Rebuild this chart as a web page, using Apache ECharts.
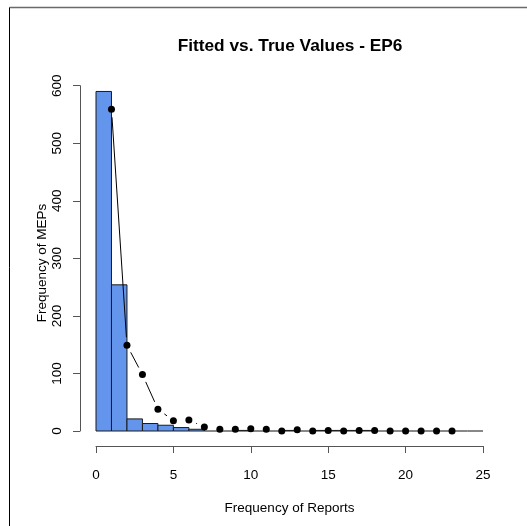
<!DOCTYPE html>
<html>
<head>
<meta charset="utf-8">
<script src="https://cdn.jsdelivr.net/npm/echarts@6/dist/echarts.min.js"></script>
<style>
  html, body { margin: 0; padding: 0; background: #fff; }
  #chart { width: 527px; height: 526px; }
</style>
</head>
<body>
<div id="chart"></div>
<script>
// Histogram of observed report counts (unit-width bins starting at 0)
var binStarts = [0, 1, 2, 3, 4, 5, 6, 7, 8, 9, 10, 11, 12, 13, 14, 15, 16, 17, 18, 19, 20, 21, 22, 23, 24];
var binCounts = [590, 254, 21, 13, 10, 6, 3, 0, 0, 1, 0, 0, 1, 0, 1, 1, 1, 1, 0, 0, 0, 0, 0, 0, 0];

// Fitted frequencies at each report count
var fitX = [1, 2, 3, 4, 5, 6, 7, 8, 9, 10, 11, 12, 13, 14, 15, 16, 17, 18, 19, 20, 21, 22, 23];
var fitY = [559, 149, 98, 38, 18, 19, 7, 3, 3, 4, 3, 0, 2, 0, 1, 0, 1, 1, 0, 0, 0, 0, 0];

var xTicks = [0, 5, 10, 15, 20, 25];
var yTicks = [0, 100, 200, 300, 400, 500, 600];

var FONT = '"Liberation Sans", Arial, sans-serif';

var histData = binStarts.map(function (s, i) { return [s, s + 1, binCounts[i]]; });
var pointData = fitX.map(function (x, i) { return [x, fitY[i]]; });
var segData = [];
for (var i = 0; i < fitX.length - 1; i++) {
  segData.push([fitX[i], fitY[i], fitX[i + 1], fitY[i + 1]]);
}

var chart = echarts.init(document.getElementById('chart'), null, { renderer: 'canvas' });

chart.setOption({
  backgroundColor: '#ffffff',
  animation: false,
  title: {
    text: 'Fitted vs. True Values - EP6',
    left: 285,
    top: 33,
    textAlign: 'center',
    textStyle: { fontFamily: FONT, fontSize: 17.3, fontWeight: 'bold', color: '#000' }
  },
  graphic: [
    { type: 'line', silent: true, shape: { x1: 9.5, y1: 7.5, x2: 540, y2: 7.5 },
      style: { stroke: '#6a6a6a', lineWidth: 1.6 } },
    { type: 'line', silent: true, shape: { x1: 9.5, y1: 7.5, x2: 9.5, y2: 540 },
      style: { stroke: '#000', lineWidth: 1 } },
    // y axis title
    { type: 'text', silent: true, x: 42, y: 263, rotation: Math.PI / 2,
      style: { text: 'Frequency of MEPs', fontFamily: FONT, fontSize: 13.5, fill: '#000',
               align: 'center', verticalAlign: 'middle' } }
  ],
  grid: { left: 96, right: 44, top: 85.7, bottom: 95, containLabel: false },
  xAxis: {
    type: 'value',
    min: xTicks[0],
    max: xTicks[xTicks.length - 1],
    interval: 5,
    offset: 15,
    name: 'Frequency of Reports',
    nameLocation: 'middle',
    nameGap: 55,
    nameTextStyle: { fontFamily: FONT, fontSize: 13.5, color: '#000' },
    axisLine: { show: true, onZero: false, lineStyle: { color: '#555', width: 1 } },
    axisTick: { show: true, length: 7, lineStyle: { color: '#555', width: 1 } },
    axisLabel: { fontFamily: FONT, fontSize: 13.5, color: '#000', margin: 22 },
    splitLine: { show: false }
  },
  yAxis: {
    type: 'value',
    min: yTicks[0],
    max: yTicks[yTicks.length - 1],
    interval: 100,
    offset: 16,
    axisLine: { show: true, onZero: false, lineStyle: { color: '#555', width: 1 } },
    axisTick: { show: true, length: 7, lineStyle: { color: '#555', width: 1 } },
    axisLabel: { fontFamily: FONT, fontSize: 13.5, color: '#000', rotate: 90, margin: 16 },
    splitLine: { show: false }
  },
  series: [
    {
      type: 'custom',
      name: 'observed',
      data: histData,
      encode: { x: [0, 1], y: 2 },
      clip: false,
      renderItem: function (params, api) {
        var p0 = api.coord([api.value(0), 0]);
        var p1 = api.coord([api.value(1), api.value(2)]);
        if (api.value(2) === 0) {
          return {
            type: 'line',
            shape: { x1: p0[0], y1: p0[1], x2: p1[0], y2: p0[1] },
            style: { stroke: '#111', lineWidth: 1 }
          };
        }
        return {
          type: 'rect',
          shape: { x: p0[0], y: p1[1], width: p1[0] - p0[0], height: p0[1] - p1[1] },
          style: { fill: '#6495ED', stroke: '#1a1a1a', lineWidth: 1 }
        };
      },
      z: 1
    },
    {
      // connecting segments, trimmed around each point
      type: 'custom',
      name: 'fitted-lines',
      data: segData,
      encode: { x: [0, 2], y: [1, 3] },
      clip: false,
      renderItem: function (params, api) {
        var a = api.coord([api.value(0), api.value(1)]);
        var b = api.coord([api.value(2), api.value(3)]);
        var dx = b[0] - a[0], dy = b[1] - a[1];
        var len = Math.sqrt(dx * dx + dy * dy);
        var gap = 8;
        if (len <= 2 * gap) { return null; }
        var ux = dx / len, uy = dy / len;
        return {
          type: 'line',
          shape: { x1: a[0] + ux * gap, y1: a[1] + uy * gap, x2: b[0] - ux * gap, y2: b[1] - uy * gap },
          style: { stroke: '#000', lineWidth: 1 }
        };
      },
      z: 2
    },
    {
      type: 'scatter',
      name: 'fitted',
      data: pointData,
      symbol: 'circle',
      symbolSize: 7,
      itemStyle: { color: '#000', opacity: 1 },
      z: 3
    }
  ]
});
</script>
</body>
</html>
